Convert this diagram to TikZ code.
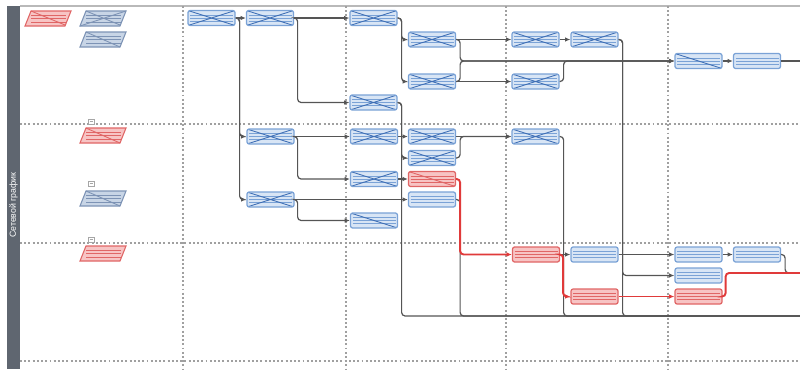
\documentclass[tikz,border=0pt]{standalone}
\usepackage{fontspec}
\newfontfamily\lanefont{Liberation Sans}
\usetikzlibrary{arrows.meta}

\definecolor{laneGray}{HTML}{5F6670}
\definecolor{gridGray}{HTML}{A0A0A0}
\definecolor{taskBlue}{HTML}{7AA2D6}
\definecolor{taskBlueFill}{HTML}{D8E5F5}
\definecolor{crossBlue}{HTML}{3F6FB5}
\definecolor{taskRed}{HTML}{E06666}
\definecolor{taskRedFill}{HTML}{F7C4C4}
\definecolor{linkGray}{HTML}{555555}
\definecolor{critRed}{HTML}{E03A3A}
\definecolor{legBlue}{HTML}{7D93B5}
\definecolor{legBlueFill}{HTML}{C8D5E6}

% row lines and crossings inside a task box
\newcommand{\taskrows}[1]{%
  \foreach \r in {4.5,7.5,10.5}
    \draw[#1,line width=0.45pt] ([shift={(2,\r)}]path picture bounding box.north west) -- ([shift={(-2,\r)}]path picture bounding box.north east);}
\newcommand{\taskdiag}[1]{%
  \draw[#1,line width=0.5pt] (path picture bounding box.north west) -- (path picture bounding box.south east);}
\newcommand{\taskcross}[1]{%
  \draw[#1,line width=0.5pt] (path picture bounding box.north west) -- (path picture bounding box.south east)
    (path picture bounding box.south west) -- (path picture bounding box.north east);}

% legend parallelogram: x, y (top left), colour, fill, diagonal
\newcommand{\legpar}[5]{%
  \draw[#3,fill=#4,line width=0.6pt] (#1+6,#2) -- (#1+46,#2) -- (#1+40,#2+15) -- (#1,#2+15) -- cycle;
  \foreach \r in {4,7.5,11}
    \draw[#3,line width=0.5pt] (#1+6,#2+\r) -- (#1+41,#2+\r);
  #5}

\tikzset{
  task/.style={rectangle, rounded corners=1.2pt, draw=taskBlue, fill=taskBlueFill, line width=0.7pt,
    minimum width=0.94cm, minimum height=0.3cm, inner sep=0pt, path picture={\taskrows{taskBlue}}},
  xtask/.style={task, path picture={\taskrows{taskBlue}\taskcross{crossBlue}}},
  dtask/.style={task, path picture={\taskrows{taskBlue}\taskdiag{crossBlue}}},
  crit/.style={task, draw=taskRed, fill=taskRedFill, path picture={\taskrows{taskRed}}},
  dcrit/.style={crit, path picture={\taskrows{taskRed}\taskdiag{taskRed}}},
  link/.style={draw=linkGray, line width=0.7pt, rounded corners=2pt, -{Latex[length=3pt,width=2.6pt]}},
  tail/.style={draw=linkGray, line width=0.7pt, rounded corners=2pt},
  critlink/.style={link, draw=critRed, line width=1.1pt},
  grid/.style={gridGray, line width=1.1pt, dash pattern=on 1.1pt off 1.3pt}
}

\begin{document}
\begin{tikzpicture}[x=0.02cm, y=-0.02cm]
    \useasboundingbox (0,0) rectangle (800,369);

    % lane and grid
    \fill[laneGray] (7,6) rectangle (20,369);
    \node[rotate=90, text=white, font=\lanefont\fontsize{5}{6}\selectfont] (lane) at (13.5,205) {Сетевой график};
    \draw[gray!55, line width=0.8pt] (20,6) -- (800,6);
    \foreach \y in {124,243,361}
        \draw[grid] (20,\y) -- (800,\y);
    \foreach \x in {183,346,506,668}
        \draw[grid] (\x,6) -- (\x,369);

    % legend
    \legpar{25}{11}{taskRed}{taskRedFill}{\draw[taskRed,line width=0.5pt] (31,11) -- (65,25);}
    \legpar{80}{11}{legBlue}{legBlueFill}{\draw[legBlue,line width=0.5pt] (86,11) -- (120,25) (80,26) -- (126,11);}
    \legpar{80}{32}{legBlue}{legBlueFill}{\draw[legBlue,line width=0.5pt] (86,32) -- (120,47);}
    \legpar{80}{128}{taskRed}{taskRedFill}{\draw[taskRed,line width=0.5pt] (86,128) -- (120,143);}
    \legpar{80}{191}{legBlue}{legBlueFill}{\draw[legBlue,line width=0.5pt] (86,191) -- (120,206);}
    \legpar{80}{246}{taskRed}{taskRedFill}{}
    \foreach \y in {119,181,237}
        \draw[gray!70, fill=white, line width=0.4pt] (88,\y) rectangle (94,\y+5) (89.5,\y+2.5) -- (92.5,\y+2.5);

    % tasks
    \node[xtask] (a1) at (211.5,18) {};
    \node[xtask] (a2) at (270,18) {};
    \node[xtask] (a3) at (373.5,18) {};
    \node[xtask] (a4) at (432,39.5) {};
    \node[xtask] (a5) at (432,81.5) {};
    \node[xtask] (a6) at (535.5,39.5) {};
    \node[xtask] (a7) at (594.5,39.5) {};
    \node[xtask] (a8) at (535.5,81.5) {};
    \node[dtask] (a9) at (698.5,61) {};
    \node[task] (a10) at (757,61) {};
    \node[xtask] (a11) at (373.5,102.5) {};

    \node[xtask] (b1) at (270.5,136.5) {};
    \node[xtask] (b2) at (374,136.5) {};
    \node[xtask] (b3) at (432,136.5) {};
    \node[xtask] (b4) at (432,158) {};
    \node[dcrit] (b5) at (432,179) {};
    \node[task] (b6) at (432,199.5) {};
    \node[xtask] (b7) at (374,179) {};
    \node[xtask] (b8) at (270.5,199.5) {};
    \node[dtask] (b9) at (374,220.5) {};
    \node[xtask] (b10) at (535.5,136.5) {};

    \node[crit] (c1) at (536,254.5) {};
    \node[task] (c2) at (594.5,254.5) {};
    \node[crit] (c3) at (594.5,296.5) {};
    \node[task] (c4) at (698.5,254.5) {};
    \node[task] (c5) at (698.5,275.5) {};
    \node[crit] (c6) at (698.5,296.5) {};
    \node[task] (c7) at (757,254.5) {};

    \coordinate (fin) at (800,316);
    \coordinate (outa) at (800,61);
    \coordinate (outc) at (800,273);

    % links
    \draw[link] (a1) -- (a2);
    \draw[link] (a1.east) -- ++(4,0) |- (b1.west);
    \draw[link] (a1.east) -- ++(4,0) |- (b8.west);
    \draw[link] (a2) -- (a3);
    \draw[link] (a2.east) -- ++(3.5,0) |- (a11.west);
    \draw[link] (a3.east) -- ++(4,0) |- (a4.west);
    \draw[link] (a3.east) -- ++(4,0) |- (a5.west);
    \draw[link] (a4) -- (a6);
    \draw[link] (a5) -- (a8);
    \draw[link] (a6) -- (a7);
    \draw[link] (a4.east) -- ++(4,0) |- (a9.west);
    \draw[link] (a5.east) -- ++(4,0) |- (a9.west);
    \draw[link] (a8.east) -- ++(4,0) |- (a9.west);
    \draw[link] (a9) -- (a10);
    \draw[tail] (a10.east) -- (outa);
    \draw[tail] (a7.east) -- ++(4,0) |- (fin);
    \draw[link] (a7.east) -- ++(4,0) |- (c5.west);
    \draw[tail] (a11.east) -- ++(4,0) |- (fin);
    \draw[link] (a11.east) -- ++(4,0) |- (b4.west);

    \draw[link] (b1) -- (b2);
    \draw[link] (b1.east) -- ++(3,0) |- (b7.west);
    \draw[link] (b2) -- (b3);
    \draw[link] (b3) -- (b10);
    \draw[link] (b4.east) -- ++(4,0) |- (b10.west);
    \draw[link] (b7) -- (b5);
    \draw[link] (b8) -- (b6);
    \draw[link] (b8.east) -- ++(3,0) |- (b9.west);
    \draw[tail] (b6.east) -- ++(4,0) |- (fin);
    \draw[tail] (b10.east) -- ++(4,0) |- (fin);

    \draw[link] (c1) -- (c2);
    \draw[link] (c2) -- (c4);
    \draw[link] (c4) -- (c7);
    \draw[tail] (c7.east) -- ++(4,0) |- (outc);
    \draw[critlink] (b5.east) -- ++(4,0) |- (c1.west);
    \draw[critlink] (c1.east) -- ++(3,0) |- (c3.west);
    \draw[critlink] (c3) -- (c6);
    \draw[critlink, -] (c6.east) -- ++(3,0) |- (outc);

\end{tikzpicture}
\end{document}
